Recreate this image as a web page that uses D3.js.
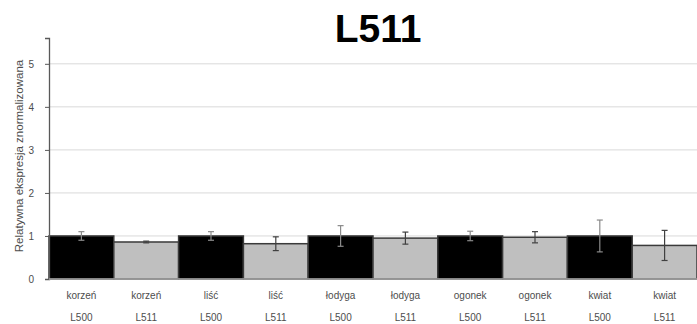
<!DOCTYPE html>
<html>
<head>
<meta charset="utf-8">
<script src="https://cdn.jsdelivr.net/npm/d3@7"></script>
<style>
  html, body { margin: 0; padding: 0; background: #fff; }
  svg { display: block; }
</style>
</head>
<body>
<svg id="chart" width="697" height="324"></svg>
<script>
// Relative normalized expression per organ and line
const organs = ["korzeń", "korzeń", "liść", "liść", "łodyga", "łodyga", "ogonek", "ogonek", "kwiat", "kwiat"];
const lines  = ["L500", "L511", "L500", "L511", "L500", "L511", "L500", "L511", "L500", "L511"];
const values = [1.00, 0.86, 1.00, 0.82, 1.00, 0.95, 1.00, 0.97, 1.00, 0.78];
const errors = [0.10, 0.02, 0.10, 0.16, 0.24, 0.14, 0.11, 0.13, 0.37, 0.35];
const yTicks = [0, 1, 2, 3, 4, 5];
const title = "L511";
const yTitle = "Relatywna ekspresja znormalizowana";

const svg = d3.select("#chart");
const margin = { left: 49, right: 0, top: 38, bottom: 45 };
const W = 697, H = 324;
const plotBottom = 279;

const x = d3.scaleBand()
  .domain(d3.range(values.length))
  .range([margin.left, W - margin.right])
  .padding(0);

const y = d3.scaleLinear()
  .domain([0, 5.6])
  .range([plotBottom, margin.top]);

// Horizontal gridlines
svg.append("g")
  .selectAll("line")
  .data(yTicks.filter(d => d > 0))
  .join("line")
  .attr("x1", margin.left)
  .attr("x2", W)
  .attr("y1", d => y(d))
  .attr("y2", d => y(d))
  .attr("stroke", "#d9d9d9")
  .attr("stroke-width", 1);

// Bars
svg.append("g")
  .selectAll("rect")
  .data(values)
  .join("rect")
  .attr("x", (d, i) => x(i))
  .attr("y", d => y(d))
  .attr("width", x.bandwidth())
  .attr("height", d => y(0) - y(d))
  .attr("fill", (d, i) => lines[i] === "L500" ? "#000000" : "#bfbfbf")
  .attr("stroke", "#3a3a3a")
  .attr("stroke-width", 1.5);

// Error bars
const eb = svg.append("g").attr("stroke-width", 1.2);
values.forEach((v, i) => {
  const cx = x(i) + x.bandwidth() / 2;
  const hi = y(v + errors[i]), lo = y(v - errors[i]);
  const col = lines[i] === "L500" ? "#8a8a8a" : "#404040";
  eb.append("line").attr("x1", cx).attr("x2", cx).attr("y1", hi).attr("y2", lo).attr("stroke", col);
  eb.append("line").attr("x1", cx - 3).attr("x2", cx + 3).attr("y1", hi).attr("y2", hi).attr("stroke", col);
  eb.append("line").attr("x1", cx - 3).attr("x2", cx + 3).attr("y1", lo).attr("y2", lo).attr("stroke", col);
});

// Y axis
const yAxis = d3.axisLeft(y)
  .tickValues(yTicks)
  .tickFormat(d3.format("d"))
  .tickSize(4)
  .tickPadding(11);

const gy = svg.append("g")
  .attr("transform", `translate(${margin.left},0)`)
  .call(yAxis);
gy.select(".domain").attr("stroke", "#595959").attr("stroke-width", 1.3);
gy.selectAll(".tick line").attr("stroke", "#595959");
gy.selectAll(".tick text")
  .attr("font-family", "Liberation Sans, Arial, sans-serif")
  .attr("font-size", 10)
  .attr("fill", "#4d4d4d");

// X axis line
svg.append("line")
  .attr("x1", margin.left).attr("x2", W)
  .attr("y1", plotBottom).attr("y2", plotBottom)
  .attr("stroke", "#a6a6a6").attr("stroke-width", 1.3);

// Category labels (two lines)
const labels = svg.append("g")
  .attr("font-family", "Liberation Sans, Arial, sans-serif")
  .attr("font-size", 10)
  .attr("fill", "#4d4d4d")
  .attr("text-anchor", "middle");
labels.selectAll("text.organ")
  .data(organs)
  .join("text")
  .attr("class", "organ")
  .attr("x", (d, i) => x(i) + x.bandwidth() / 2)
  .attr("y", 299)
  .text(d => d);
labels.selectAll("text.line")
  .data(lines)
  .join("text")
  .attr("class", "line")
  .attr("x", (d, i) => x(i) + x.bandwidth() / 2)
  .attr("y", 321)
  .text(d => d);

// Y axis title
svg.append("text")
  .attr("transform", "translate(23,156) rotate(-90)")
  .attr("text-anchor", "middle")
  .attr("font-family", "Liberation Sans, Arial, sans-serif")
  .attr("font-size", 11.5)
  .attr("fill", "#4d4d4d")
  .text(yTitle);

// Chart title
svg.append("text")
  .attr("x", 378)
  .attr("y", 42)
  .attr("text-anchor", "middle")
  .attr("font-family", "Liberation Sans, Arial, sans-serif")
  .attr("font-weight", "bold")
  .attr("font-size", 39)
  .attr("fill", "#000")
  .text(title);
</script>
</body>
</html>
